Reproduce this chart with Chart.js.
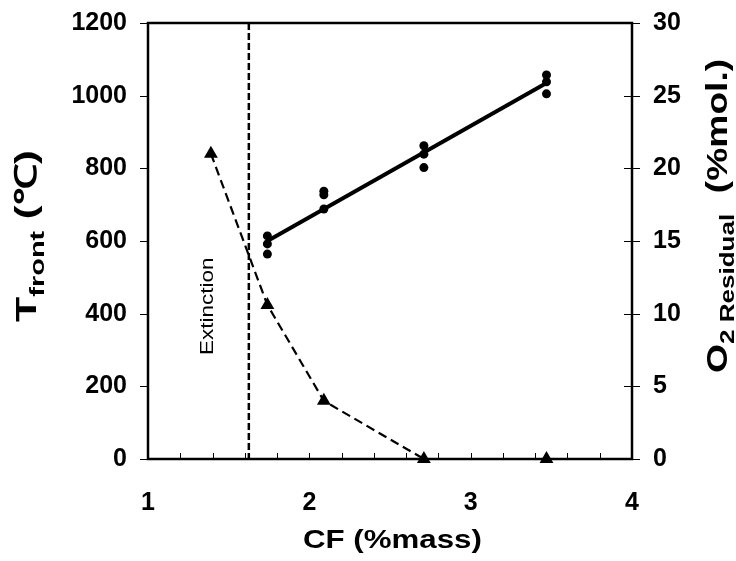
<!DOCTYPE html>
<html>
<head>
<meta charset="utf-8">
<script src="https://cdn.jsdelivr.net/npm/chart.js@4/dist/chart.umd.min.js"></script>
<style>
  html, body { margin: 0; padding: 0; background: #fff; }
  #wrap { width: 736px; height: 561px; }
</style>
</head>
<body>
<div id="wrap"><canvas id="chart" width="736" height="561"></canvas></div>
<script>
// ── Data ────────────────────────────────────────────────────────
const cfFront   = [1.74, 1.74, 1.74, 2.09, 2.09, 2.09, 2.71, 2.71, 2.71, 3.47, 3.47, 3.47];
const tFront    = [614, 592, 564, 737, 727, 688, 862, 839, 802, 1057, 1038, 1005];
const cfFit     = [1.74, 3.47];
const tFit      = [600, 1035];
const cfO2      = [1.39, 1.74, 2.09, 2.71, 3.47];
const o2Resid   = [21, 10.6, 4, 0, 0];
const extinctionCF = 1.625;

const FONT = "'Liberation Sans', Arial, sans-serif";

/** Draw a run of text pieces (main / subscript) along a rotated, stretched baseline. */
function drawRun(ctx, pieces, x, y, angle, sx) {
  ctx.save();
  ctx.translate(x, y);
  ctx.rotate(angle);
  ctx.scale(sx, 1);
  ctx.fillStyle = '#000';
  ctx.textBaseline = 'alphabetic';
  ctx.textAlign = 'left';
  let pos = 0;
  pieces.forEach(p => {
    ctx.font = p.font;
    ctx.fillText(p.text, pos, p.dy || 0);
    pos += ctx.measureText(p.text).width;
  });
  ctx.restore();
}

const decor = {
  id: 'decor',
  beforeDatasetsDraw(chart) {
    const { ctx, chartArea: a, scales: { x } } = chart;
    const px = x.getPixelForValue(extinctionCF);
    ctx.save();
    ctx.strokeStyle = '#000';
    ctx.lineWidth = 2.5;
    ctx.setLineDash([7, 3]);
    ctx.beginPath();
    ctx.moveTo(px, a.top);
    ctx.lineTo(px, a.bottom);
    ctx.stroke();
    ctx.restore();
  },
  afterDatasetsDraw(chart) {
    const { ctx, chartArea: a, scales: { x, y, y2 } } = chart;
    ctx.save();
    ctx.strokeStyle = '#000';
    ctx.lineWidth = 1;
    ctx.beginPath();
    x.ticks.forEach(t => {
      const px = Math.round(x.getPixelForValue(t.value)) + 0.5;
      ctx.moveTo(px, a.bottom); ctx.lineTo(px, a.bottom - 6);
    });
    y.ticks.forEach(t => {
      const py = Math.round(y.getPixelForValue(t.value)) + 0.5;
      ctx.moveTo(a.left - 8, py); ctx.lineTo(a.left, py);
    });
    y2.ticks.forEach(t => {
      const py = Math.round(y2.getPixelForValue(t.value)) + 0.5;
      ctx.moveTo(a.right - 8, py); ctx.lineTo(a.right + 8, py);
    });
    ctx.stroke();
    ctx.lineWidth = 2.5;
    ctx.strokeRect(a.left, a.top, a.right - a.left, a.bottom - a.top);
    ctx.restore();
  },
  afterDraw(chart) {
    const ctx = chart.ctx;
    const up = -Math.PI / 2;
    // left axis title
    drawRun(ctx, [
      { text: 'T', font: `bold 30px ${FONT}` },
      { text: 'front', font: `bold 21px ${FONT}`, dy: 8 },
      { text: ' (℃)', font: `bold 30px ${FONT}` },
    ], 36, 322, up, 1.38);
    // right axis title
    drawRun(ctx, [
      { text: 'O', font: `bold 30px ${FONT}` },
      { text: '2 Residual', font: `bold 21px ${FONT}`, dy: 7 },
      { text: '  (%mol.)', font: `bold 30px ${FONT}` },
    ], 727, 373, up, 1.24);
    // bottom title
    drawRun(ctx, [{ text: 'CF (%mass)', font: `bold 25px ${FONT}` }], 303, 548, 0, 1.25);
    // extinction note
    drawRun(ctx, [{ text: 'Extinction', font: `18px ${FONT}` }], 213, 355, up, 1.25);
  },
};

const tickFont = { family: FONT, size: 25, weight: 'bold' };

// fixed box sizes so the plot area sits where the reference has it
const fitY = w => s => { s.width = w; s.paddingTop = 0; s.paddingBottom = 0; };

new Chart(document.getElementById('chart'), {
  type: 'scatter',
  data: {
    datasets: [
      {
        label: 'T front',
        data: cfFront.map((v, i) => ({ x: v, y: tFront[i] })),
        yAxisID: 'y',
        pointRadius: 4.5,
        pointBackgroundColor: '#000',
        pointBorderWidth: 0,
        showLine: false,
        clip: false,
      },
      {
        type: 'line',
        label: 'fit',
        data: cfFit.map((v, i) => ({ x: v, y: tFit[i] })),
        yAxisID: 'y',
        borderColor: '#000',
        borderWidth: 4,
        pointRadius: 0,
        fill: false,
      },
      {
        type: 'line',
        label: 'O2 residual',
        data: cfO2.map((v, i) => ({ x: v, y: o2Resid[i] })),
        yAxisID: 'y2',
        borderColor: '#000',
        borderWidth: 2.2,
        borderDash: [9, 5],
        pointStyle: 'triangle',
        pointRadius: 8,
        pointBackgroundColor: '#000',
        pointBorderColor: '#000',
        pointBorderWidth: 0,
        fill: false,
        clip: false,
        segment: {
          borderColor: c => (c.p1DataIndex === cfO2.length - 1 ? 'rgba(0,0,0,0)' : '#000'),
        },
      },
    ],
  },
  options: {
    responsive: false,
    animation: false,
    layout: { padding: { top: 23, left: 0, right: 0, bottom: 0 } },
    plugins: { legend: { display: false }, tooltip: { enabled: false } },
    scales: {
      x: {
        type: 'linear', min: 1, max: 4,
        grid: { display: false, drawTicks: false },
        border: { display: false },
        ticks: {
          stepSize: 0.2, autoSkip: false, maxRotation: 0, padding: 29,
          color: '#000', font: tickFont,
          callback: v => (Math.abs(v - Math.round(v)) < 1e-6 ? String(Math.round(v)) : ''),
        },
        afterFit: s => { s.height = 102; s.paddingLeft = 0; s.paddingRight = 0; },
      },
      y: {
        position: 'left', min: 0, max: 1200,
        grid: { display: false, drawTicks: false },
        border: { display: false },
        ticks: { stepSize: 200, padding: 21, color: '#000', font: tickFont, callback: v => String(v) },
        afterFit: fitY(148),
      },
      y2: {
        position: 'right', min: 0, max: 30,
        grid: { display: false, drawTicks: false },
        border: { display: false },
        ticks: { stepSize: 5, padding: 21, color: '#000', font: tickFont, callback: v => String(v) },
        afterFit: fitY(104),
      },
    },
  },
  plugins: [decor],
});
</script>
</body>
</html>
